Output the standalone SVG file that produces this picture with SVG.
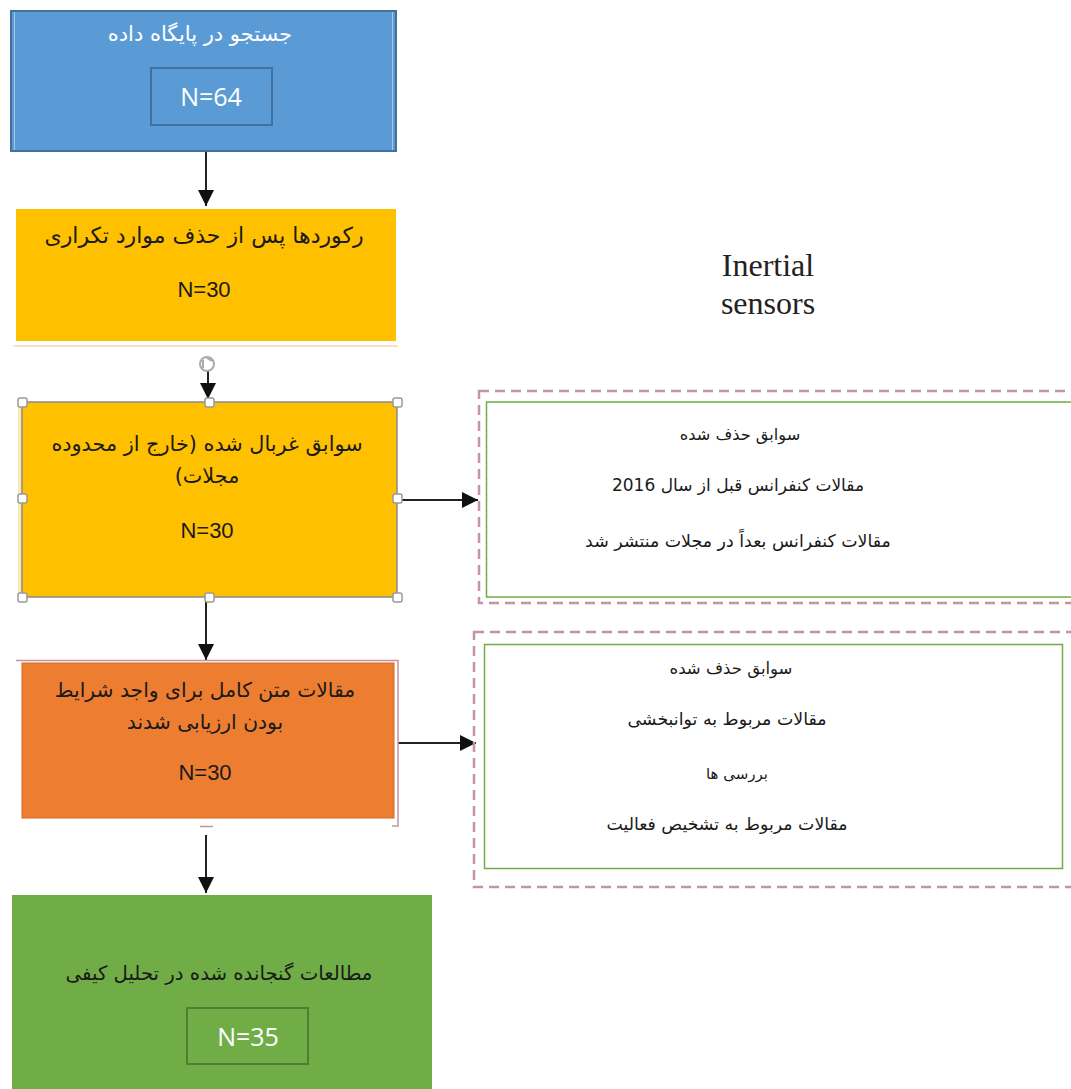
<svg xmlns="http://www.w3.org/2000/svg" width="1071" height="1089" viewBox="0 0 1071 1089">
<style>
.fa{font-family:"DejaVu Sans","Noto Sans",sans-serif;font-size:17px;fill:#1a1a1a;text-anchor:middle;direction:rtl}
.n{font-family:"Liberation Sans",Arial,sans-serif;font-size:22px;fill:#1a1a1a;text-anchor:middle}
.nw{font-family:"Open Sans","Liberation Sans",sans-serif;font-size:25px;fill:#fff;text-anchor:middle}
.conn{stroke:#222;stroke-width:2;fill:none}
.dash{fill:none;stroke:#c4959c;stroke-width:2.5;stroke-dasharray:10,6}
.grn{fill:#fff;stroke:#70ad47;stroke-width:1.5}
.h{fill:#fff;stroke:#999;stroke-width:1.5}
</style>
<defs>
<marker id="ahb" viewBox="0 0 10 10" refX="10" refY="5" markerWidth="16" markerHeight="18" markerUnits="userSpaceOnUse" orient="auto">
<path d="M0,0 L10,5 L0,10 Z" fill="#111"/>
</marker>
</defs>
<rect width="1071" height="1089" fill="#fff"/>

<g id="connectors">
<line class="conn" x1="206" y1="151" x2="206" y2="206" marker-end="url(#ahb)"/>
<line class="conn" x1="208" y1="370" x2="208" y2="399" marker-end="url(#ahb)"/>
<line class="conn" x1="400" y1="500" x2="478" y2="500" marker-end="url(#ahb)"/>
<line class="conn" x1="206" y1="597" x2="206" y2="660" marker-end="url(#ahb)"/>
<line class="conn" x1="398" y1="743" x2="476" y2="743" marker-end="url(#ahb)"/>
<line class="conn" x1="206" y1="835" x2="206" y2="893" marker-end="url(#ahb)"/>
</g>

<g id="node-search">
<rect x="11" y="11" width="385" height="140" fill="#5b9bd5" stroke="#41719c" stroke-width="2"/>
<line x1="14.5" y1="12" x2="14.5" y2="150" stroke="#a9c6e6" stroke-width="1"/>
<line x1="392.5" y1="12" x2="392.5" y2="150" stroke="#a9c6e6" stroke-width="1"/>
<text class="fa" x="200" y="41" style="fill:#fff;font-size:21px">جستجو در پایگاه داده</text>
<rect x="151" y="68" width="121" height="57" fill="#5b9bd5" stroke="#41719c" stroke-width="2"/>
<text class="nw" x="211" y="106">N=64</text>
</g>

<g id="node-dedup">
<rect x="16" y="209" width="380" height="132" fill="#ffc000"/>
<line x1="13" y1="346" x2="398" y2="346" stroke="#f7d9a6" stroke-width="1.5"/>
<text class="fa" x="204" y="243" style="font-size:22px">رکوردها پس از حذف موارد تکراری</text>
<text class="n" x="204" y="297">N=30</text>
</g>

<g id="rotate-handle" fill="none" stroke="#aaa" stroke-width="2">
<circle cx="207" cy="364" r="7"/>
<path d="M203,360 L203,368 M207,358 L212,361"/>
</g>

<g id="node-screened">
<rect x="18" y="399" width="6" height="200" fill="#fde7b0"/>
<rect x="22" y="402" width="375" height="195" fill="#ffc000" stroke="#8a8a8a" stroke-width="1.5"/>
<text class="fa" x="207" y="451" style="font-size:20.8px">سوابق غربال شده (خارج از محدوده</text>
<text class="fa" x="207" y="483" style="font-size:20.8px">مجلات)</text>
<text class="n" x="207" y="538">N=30</text>
<rect class="h" x="18" y="398" width="9" height="9" rx="2"/>
<rect class="h" x="205" y="398" width="9" height="9" rx="2"/>
<rect class="h" x="393" y="398" width="9" height="9" rx="2"/>
<rect class="h" x="18" y="494" width="9" height="9" rx="2"/>
<rect class="h" x="393" y="494" width="9" height="9" rx="2"/>
<rect class="h" x="18" y="593" width="9" height="9" rx="2"/>
<rect class="h" x="205" y="593" width="9" height="9" rx="2"/>
<rect class="h" x="393" y="593" width="9" height="9" rx="2"/>
</g>

<g id="node-excluded1">
<rect class="dash" x="479" y="391" width="600" height="212"/>
<rect class="grn" x="486.5" y="402" width="590" height="195"/>
<text class="fa" x="740" y="440" style="font-size:16.2px">سوابق حذف شده</text>
<text class="fa" x="738" y="491">مقالات کنفرانس قبل از سال 2016</text>
<text class="fa" x="738" y="547" style="font-size:17.4px">مقالات کنفرانس بعداً در مجلات منتشر شد</text>
</g>

<g id="node-fulltext">
<path d="M16,660.5 L398,660.5 L398,826 L392,826" fill="none" stroke="#c4959c" stroke-width="1.5"/>
<line x1="200" y1="826.5" x2="213" y2="826.5" stroke="#c4959c" stroke-width="1.5"/>
<rect x="22" y="663" width="372" height="155" fill="#ed7d31" stroke="#d46a22" stroke-width="1"/>
<text class="fa" x="205" y="697" style="font-size:20.3px">مقالات متن کامل برای واجد شرایط</text>
<text class="fa" x="205" y="729" style="font-size:20.3px">بودن ارزیابی شدند</text>
<text class="n" x="205" y="780">N=30</text>
</g>

<g id="node-excluded2">
<rect class="dash" x="474" y="632" width="605" height="255"/>
<rect class="grn" x="484.5" y="644.5" width="578" height="224"/>
<text class="fa" x="731" y="674" style="font-size:16.5px">سوابق حذف شده</text>
<text class="fa" x="727" y="725" style="font-size:17.4px">مقالات مربوط به توانبخشی</text>
<text class="fa" x="737" y="779" style="font-size:15px">بررسی ها</text>
<text class="fa" x="727" y="830" style="font-size:17.3px">مقالات مربوط به تشخیص فعالیت</text>
</g>

<g id="node-included">
<rect x="12" y="895" width="420" height="194" fill="#70ad47"/>
<text class="fa" x="219" y="980" style="font-size:19.7px">مطالعات گنجانده شده در تحلیل کیفی</text>
<rect x="187" y="1008" width="121" height="56" fill="#70ad47" stroke="#507e32" stroke-width="2"/>
<text class="nw" x="248" y="1046">N=35</text>
</g>

<g id="label-inertial">
<text x="768" y="276" font-family="'Liberation Serif','DejaVu Serif',serif" font-size="32" fill="#222" text-anchor="middle">Inertial</text>
<text x="768" y="314" font-family="'Liberation Serif','DejaVu Serif',serif" font-size="32" fill="#222" text-anchor="middle">sensors</text>
</g>
</svg>
